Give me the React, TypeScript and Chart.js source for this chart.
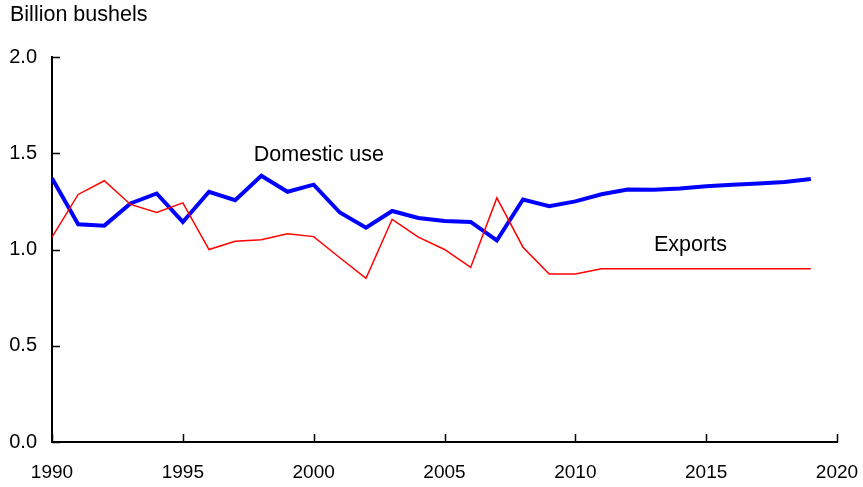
import React, { useEffect, useRef } from "react";
import { Chart, registerables } from "chart.js";

Chart.register(...registerables);

const years = [1990, 1991, 1992, 1993, 1994, 1995, 1996, 1997, 1998, 1999, 2000, 2001, 2002, 2003, 2004, 2005, 2006, 2007, 2008, 2009, 2010, 2011, 2012, 2013, 2014, 2015, 2016, 2017, 2018, 2019];
const domesticUse = [1.370, 1.131, 1.124, 1.239, 1.291, 1.143, 1.300, 1.256, 1.383, 1.300, 1.337, 1.192, 1.113, 1.200, 1.164, 1.148, 1.143, 1.047, 1.260, 1.225, 1.250, 1.287, 1.312, 1.310, 1.317, 1.329, 1.336, 1.343, 1.351, 1.366];
const exportsSeries = [1.064, 1.286, 1.357, 1.234, 1.192, 1.242, 1.000, 1.043, 1.051, 1.082, 1.067, 0.957, 0.850, 1.157, 1.064, 1.000, 0.907, 1.268, 1.012, 0.873, 0.873, 0.900, 0.900, 0.900, 0.900, 0.900, 0.900, 0.900, 0.900, 0.900];
const yTickValues = [0, 0.5, 1.0, 1.5, 2.0];
const xTickValues = [1990, 1995, 2000, 2005, 2010, 2015, 2020];
const unitLabel = "Billion bushels";
const seriesLabels = [
  { text: "Domestic use", x: 2000.2, y: 1.49 },
  { text: "Exports", x: 2014.4, y: 1.025 },
];

const FONT = '"Liberation Sans", Arial, Helvetica, sans-serif';

const decorPlugin = {
  id: "decor",
  afterDraw(chart: any) {
    const { ctx, chartArea } = chart;
    const xs = chart.scales.x;
    const ys = chart.scales.y;
    ctx.save();
    ctx.strokeStyle = "#000";
    ctx.lineWidth = 1.5;
    ctx.beginPath();
    xTickValues.forEach((v) => {
      const px = Math.round(xs.getPixelForValue(v)) + 0.5;
      ctx.moveTo(px, chartArea.bottom);
      ctx.lineTo(px, chartArea.bottom - 8);
    });
    yTickValues.forEach((v) => {
      const py = Math.round(ys.getPixelForValue(v)) + 0.5;
      ctx.moveTo(chartArea.left, py);
      ctx.lineTo(chartArea.left + 8, py);
    });
    ctx.stroke();
    ctx.fillStyle = "#000";
    ctx.font = `21.5px ${FONT}`;
    ctx.textBaseline = "middle";
    ctx.textAlign = "left";
    ctx.fillText(unitLabel, 10, 15);
    ctx.textAlign = "center";
    seriesLabels.forEach((l) => {
      ctx.fillText(l.text, xs.getPixelForValue(l.x), ys.getPixelForValue(l.y));
    });
    ctx.restore();
  },
};

export default function App() {
  const ref = useRef<HTMLCanvasElement>(null);
  useEffect(() => {
    document.body.style.margin = "0";
    const chart = new Chart(ref.current!, {
      type: "line",
      data: {
        labels: years,
        datasets: [
          {
            label: "Exports",
            data: years.map((yr, i) => ({ x: yr, y: exportsSeries[i] })),
            borderColor: "#ff0000",
            borderWidth: 1.5,
            pointRadius: 0,
            tension: 0,
            order: 0,
          },
          {
            label: "Domestic use",
            data: years.map((yr, i) => ({ x: yr, y: domesticUse[i] })),
            borderColor: "#0000ff",
            borderWidth: 4,
            pointRadius: 0,
            tension: 0,
            order: 1,
          },
        ],
      },
      options: {
        animation: false,
        responsive: false,
        maintainAspectRatio: false,
        layout: { padding: { top: 57, right: 26, left: 0, bottom: 0 } },
        plugins: { legend: { display: false }, tooltip: { enabled: false }, title: { display: false } },
        scales: {
          x: {
            type: "linear",
            min: 1990,
            max: 2020,
            afterBuildTicks: (s: any) => {
              s.ticks = xTickValues.map((v) => ({ value: v }));
            },
            afterFit: (s: any) => {
              s.height = 45;
              s.paddingLeft = 0;
              s.paddingRight = 0;
            },
            grid: { display: true, drawOnChartArea: false, drawTicks: false },
            border: { display: true, color: "#000", width: 2 },
            ticks: {
              color: "#000",
              padding: 19,
              maxRotation: 0,
              font: { family: FONT, size: 19 },
              callback: (v: any) => String(v),
            },
          },
          y: {
            type: "linear",
            min: 0,
            max: 2,
            afterBuildTicks: (s: any) => {
              s.ticks = yTickValues.map((v) => ({ value: v }));
            },
            afterFit: (s: any) => {
              s.width = 52;
              s.paddingTop = 0;
              s.paddingBottom = 0;
            },
            grid: { display: true, drawOnChartArea: false, drawTicks: false },
            border: { display: true, color: "#000", width: 2 },
            ticks: {
              color: "#000",
              padding: 15,
              font: { family: FONT, size: 20 },
              callback: (v: any) => Number(v).toFixed(1),
            },
          },
        },
      },
      plugins: [decorPlugin],
    });
    return () => chart.destroy();
  }, []);
  return (
    <div style={{ width: 863, height: 487 }}>
      <canvas ref={ref} width={863} height={487} style={{ display: "block" }} />
    </div>
  );
}
